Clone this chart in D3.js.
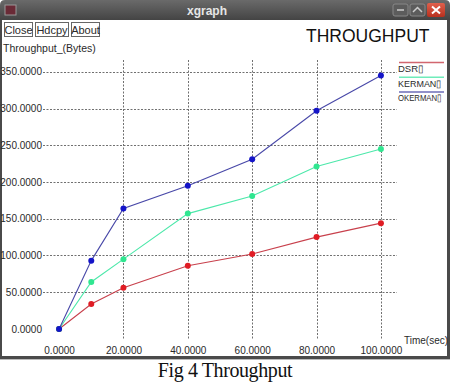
<!DOCTYPE html>
<html>
<head>
<meta charset="utf-8">
<script src="https://cdn.jsdelivr.net/npm/d3@7"></script>
<style>
  body { margin: 0; background: #fff; }
  svg text { font-family: "Liberation Sans", Arial, sans-serif; fill: #1a1a1a; }
  .grid line { stroke: #707070; stroke-dasharray: 2,1.5; stroke-width: 1; }
  .axis path { display: none; }
  .axis text { font-size: 10px; fill: #2a2a2a; }
</style>
</head>
<body>
<div id="graphic"></div>
<script>
// data
var time = [0, 10, 20, 40, 60, 80, 100];
var dsr = [0, 34, 56, 86, 102, 125, 144];
var kerman = [0, 64, 95, 157, 181, 221, 245];
var okerman = [0, 93, 164, 195, 231, 297, 345];
var seriesNames = ["DSR\u25AF", "KERMAN\u25AF", "OKERMAN\u25AF"];
var xTicks = [0, 20, 40, 60, 80, 100];
var yTicks = [0, 50, 100, 150, 200, 250, 300, 350];

var lineColors = ["#c8404c", "#4ce8aa", "#4848a8"];
var dotColors = ["#e01c24", "#30e690", "#1414c8"];

var W = 452, H = 386;

var svg = d3.select("#graphic").append("svg")
  .attr("width", W)
  .attr("height", H);

// window chrome
var defs = svg.append("defs");
var grad = defs.append("linearGradient").attr("id", "tbar")
  .attr("x1", 0).attr("y1", 0).attr("x2", 0).attr("y2", 1);
grad.append("stop").attr("offset", "0%").attr("stop-color", "#6a6a6a");
grad.append("stop").attr("offset", "100%").attr("stop-color", "#444");
var cgrad = defs.append("linearGradient").attr("id", "cbtn")
  .attr("x1", 0).attr("y1", 0).attr("x2", 0).attr("y2", 1);
cgrad.append("stop").attr("offset", "0%").attr("stop-color", "#e0604c");
cgrad.append("stop").attr("offset", "100%").attr("stop-color", "#b8301e");

svg.append("path")
  .attr("d", "M0,20 L0,5 Q0,0 5,0 L445,0 Q450,0 450,5 L450,20 Z")
  .attr("fill", "url(#tbar)");
svg.append("rect").attr("x", 0).attr("y", 20).attr("width", 2).attr("height", 338).attr("fill", "#4a4a4a");
svg.append("rect").attr("x", 447).attr("y", 20).attr("width", 3).attr("height", 338).attr("fill", "#4a4a4a");
svg.append("rect").attr("x", 0).attr("y", 356).attr("width", 450).attr("height", 3).attr("fill", "#4a4a4a");
svg.append("rect").attr("x", 0).attr("y", 359).attr("width", 450).attr("height", 1).attr("fill", "#bbb");

// title bar icon and buttons
svg.append("rect").attr("x", 5).attr("y", 5).attr("width", 11).attr("height", 10)
  .attr("fill", "#6a2a36").attr("stroke", "#999").attr("stroke-width", 1);
svg.append("text").attr("x", 207).attr("y", 15).attr("text-anchor", "middle")
  .style("font-size", "12px").style("font-weight", "bold").style("fill", "#e6e6e6")
  .text("xgraph");
[393, 410].forEach(function(bx, i) {
  svg.append("rect").attr("x", bx).attr("y", 4).attr("width", 15).attr("height", 12).attr("rx", 2)
    .attr("fill", "#5c5c5c").attr("stroke", "#888");
});
svg.append("line").attr("x1", 397).attr("x2", 404).attr("y1", 10).attr("y2", 10).attr("stroke", "#ccc").attr("stroke-width", 1.5);
svg.append("path").attr("d", "M413,12 L417.5,7.5 L422,12").attr("fill", "none").attr("stroke", "#ccc").attr("stroke-width", 1.5);
svg.append("rect").attr("x", 427).attr("y", 3).attr("width", 18).attr("height", 14).attr("rx", 2)
  .attr("fill", "url(#cbtn)");
svg.append("path").attr("d", "M432,6.5 L440,13.5 M440,6.5 L432,13.5").attr("stroke", "#fff").attr("stroke-width", 2);

// xgraph buttons
var buttons = [{t: "Close", x: 4, w: 28}, {t: "Hdcpy", x: 35, w: 33}, {t: "About", x: 71, w: 28}];
buttons.forEach(function(b) {
  svg.append("rect").attr("x", b.x + 0.5).attr("y", 22.5).attr("width", b.w).attr("height", 14)
    .attr("fill", "#fff").attr("stroke", "#666");
  svg.append("text").attr("x", b.x + b.w / 2 + 0.5).attr("y", 33.5).attr("text-anchor", "middle")
    .style("font-size", "11px").style("fill", "#2a2a2a").text(b.t);
});

svg.append("text").attr("x", 306).attr("y", 42)
  .style("font-size", "17.5px").style("fill", "#111").text("THROUGHPUT");
svg.append("text").attr("x", 3).attr("y", 52)
  .style("font-size", "10.5px").style("fill", "#2a2a2a").text("Throughput_(Bytes)");

// scales
var x = d3.scaleLinear().domain([-5, 105]).range([43, 397]);
var y = d3.scaleLinear().domain([-15, 366]).range([340, 60]);

// grid (xgraph skips the zero lines)
var grid = svg.append("g").attr("class", "grid");
grid.selectAll(".hl")
  .data(yTicks.filter(function(d) { return d != 0; }))
  .enter().append("line")
    .attr("x1", x(-5)).attr("x2", x(105))
    .attr("y1", function(d) { return Math.round(y(d)) + 0.5; })
    .attr("y2", function(d) { return Math.round(y(d)) + 0.5; });
grid.selectAll(".vl")
  .data(xTicks.filter(function(d) { return d != 0; }))
  .enter().append("line")
    .attr("y1", y(366)).attr("y2", y(-15))
    .attr("x1", function(d) { return Math.round(x(d)) + 0.5; })
    .attr("x2", function(d) { return Math.round(x(d)) + 0.5; });

// axes
svg.append("g")
  .attr("class", "axis")
  .attr("transform", "translate(43,0)")
  .call(d3.axisLeft(y).tickValues(yTicks).tickSize(0).tickPadding(1).tickFormat(d3.format(".4f")));
svg.append("g")
  .attr("class", "axis")
  .attr("transform", "translate(0,340)")
  .call(d3.axisBottom(x).tickValues(xTicks).tickSize(0).tickPadding(7).tickFormat(d3.format(".4f")));

svg.append("text").attr("x", 404).attr("y", 344)
  .style("font-size", "10px").style("fill", "#2a2a2a").text("Time(sec)");

// series
var allSeries = [dsr, kerman, okerman];
var line = d3.line()
  .x(function(d) { return x(d[0]); })
  .y(function(d) { return y(d[1]); });

allSeries.forEach(function(vals, i) {
  var pts = time.map(function(t, j) { return [t, vals[j]]; });
  svg.append("path")
    .datum(pts)
    .attr("d", line)
    .attr("fill", "none")
    .attr("stroke", lineColors[i])
    .attr("stroke-width", 1.1);
  svg.selectAll(".dot" + i)
    .data(pts)
    .enter().append("circle")
      .attr("cx", function(d) { return x(d[0]); })
      .attr("cy", function(d) { return y(d[1]); })
      .attr("r", 3)
      .style("fill", dotColors[i]);
});

// legend
var legend = svg.append("g");
seriesNames.forEach(function(n, i) {
  var ly = 62.5 + i * 14.7;
  legend.append("line").attr("x1", 399).attr("x2", 444)
    .attr("y1", ly).attr("y2", ly)
    .attr("stroke", lineColors[i]).attr("stroke-width", 1.5).attr("opacity", 0.8);
  var t = legend.append("text").attr("x", 398).attr("y", ly + 9.5)
    .style("font-size", "9.5px").style("fill", "#2a2a2a").text(n);
  if (t.node().getComputedTextLength() > 44) {
    t.attr("textLength", 44).attr("lengthAdjust", "spacingAndGlyphs");
  }
});

// caption
svg.append("text").attr("x", 225).attr("y", 377).attr("text-anchor", "middle")
  .style("font-family", "'Liberation Serif', 'DejaVu Serif', serif")
  .style("font-size", "20px").style("fill", "#111").style("letter-spacing", "-0.4px")
  .text("Fig 4 Throughput");
</script>
</body>
</html>
